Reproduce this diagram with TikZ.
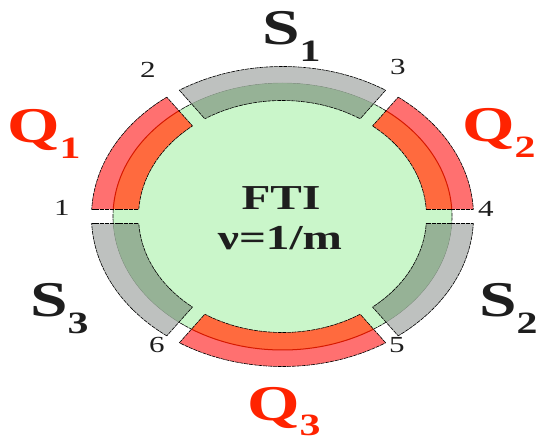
\documentclass[tikz,border=0pt]{standalone}
\usepackage{fontspec}
\setmainfont{Liberation Serif}
\usetikzlibrary{calc}
\definecolor{fillgreen}{RGB}{202,246,202}
\definecolor{redout}{RGB}{255,112,112}
\definecolor{redin}{RGB}{255,106,62}
\definecolor{redline}{RGB}{215,25,0}
\definecolor{grayout}{RGB}{190,193,191}
\definecolor{grayin}{RGB}{150,178,150}
\definecolor{grayline}{RGB}{135,150,135}
\definecolor{labelred}{RGB}{255,35,0}
\definecolor{textdark}{RGB}{30,30,30}
\tikzset{
  outline/.style={draw=black, line width=0.6pt, dash pattern=on 4pt off 0.8pt},
  biglabel/.style={inner sep=0pt, anchor=base west, font=\bfseries},
  numlabel/.style={inner sep=0pt, anchor=center, text=textdark},
}
\newcommand{\lbl}[3]{\scalebox{1.35}[1]{\fontsize{50}{50}\selectfont\bfseries #1\raisebox{#3}{\fontsize{31}{31}\selectfont #2}}}
\newcommand{\num}[1]{\scalebox{1.35}[1]{\fontsize{23}{23}\selectfont #1}}
\begin{document}
\begin{tikzpicture}[x=1pt,y=1pt]
\useasboundingbox (0,0) rectangle (541,442);
\fill[white] (0,0) rectangle (541,442);
\coordinate (C) at (282.5,225.5);
% green ellipse
\fill[fillgreen] (C) ellipse[x radius=169.5pt, y radius=133.5pt];
\draw[outline] (C) ellipse[x radius=169.5pt, y radius=133.5pt];
% segments
\foreach \a/\b/\co/\ci/\cl/\lw in {48.3/131.7/grayout/grayin/grayline/0.4pt,
                             131.7/180/redout/redin/redline/1pt,
                             180/228.3/grayout/grayin/grayline/0.4pt,
                             228.3/311.7/redout/redin/redline/1pt,
                             311.7/360/grayout/grayin/grayline/0.4pt,
                             0/48.3/redout/redin/redline/1pt}{
  \begin{scope}
    \clip ($(C)+(\a+90:7)+(\a:20)$) -- ($(C)+(\a+90:7)+(\a:300)$)
       -- ($(C)+({(\a+\b)/2}:400)$) -- ($(C)+(\b-90:7)+(\b:300)$)
       -- ($(C)+(\b-90:7)+(\b:20)$) -- cycle;
    \fill[\co] ($(C)+(191,0)$) arc[start angle=0, end angle=360, x radius=191pt, y radius=150pt] -- cycle
               ($(C)+(169.5,0)$) arc[start angle=0, end angle=-360, x radius=169.5pt, y radius=133.5pt] -- cycle;
    \fill[\ci] ($(C)+(169.5,0)$) arc[start angle=0, end angle=360, x radius=169.5pt, y radius=133.5pt] -- cycle
               ($(C)+(144,0)$) arc[start angle=0, end angle=-360, x radius=144pt, y radius=116pt] -- cycle;
    \draw[\cl, line width=\lw] (C) ellipse[x radius=169.5pt, y radius=133.5pt];
    \draw[outline] (C) ellipse[x radius=191pt, y radius=150pt];
    \draw[outline] (C) ellipse[x radius=144pt, y radius=116pt];
  \end{scope}
}
% segment end lines, clipped to the ring
\begin{scope}
  \clip ($(C)+(191,0)$) arc[start angle=0, end angle=360, x radius=191pt, y radius=150pt] -- cycle
        ($(C)+(144,0)$) arc[start angle=0, end angle=-360, x radius=144pt, y radius=116pt] -- cycle;
  \foreach \g in {0,48.3,131.7,180,228.3,311.7}{
    \draw[outline] ($(C)+(\g+90:7)+(\g:20)$) -- ($(C)+(\g+90:7)+(\g:300)$);
    \draw[outline] ($(C)+(\g-90:7)+(\g:20)$) -- ($(C)+(\g-90:7)+(\g:300)$);
  }
\end{scope}
% centre text
\node[inner sep=0pt, text=textdark] (fti) at (281,244) {\scalebox{1.35}[1]{\fontsize{35}{35}\selectfont\bfseries FTI}};
\node[inner sep=0pt, text=textdark] (nu) at (280,204) {\scalebox{1.35}[1]{\fontsize{35}{35}\selectfont\bfseries ν=1/m}};
% segment labels
\node[biglabel, text=textdark] (s1) at (262,397) {\lbl{S}{1}{-17pt}};
\node[biglabel, text=textdark] (s2) at (479,125) {\lbl{S}{2}{-17pt}};
\node[biglabel, text=textdark] (s3) at (30,125) {\lbl{S}{3}{-17pt}};
\node[biglabel, text=labelred] (q1) at (7,299) {\lbl{Q}{1}{-16pt}};
\node[biglabel, text=labelred] (q2) at (462,300) {\lbl{Q}{2}{-16pt}};
\node[biglabel, text=labelred] (q3) at (247,22) {\lbl{Q}{3}{-16pt}};
% corner numbers
\node[numlabel] (n1) at (62,234) {\num{1}};
\node[numlabel] (n2) at (148,372) {\num{2}};
\node[numlabel] (n3) at (398,375) {\num{3}};
\node[numlabel] (n4) at (486,233) {\num{4}};
\node[numlabel] (n5) at (397,97) {\num{5}};
\node[numlabel] (n6) at (157,97) {\num{6}};
\end{tikzpicture}
\end{document}
